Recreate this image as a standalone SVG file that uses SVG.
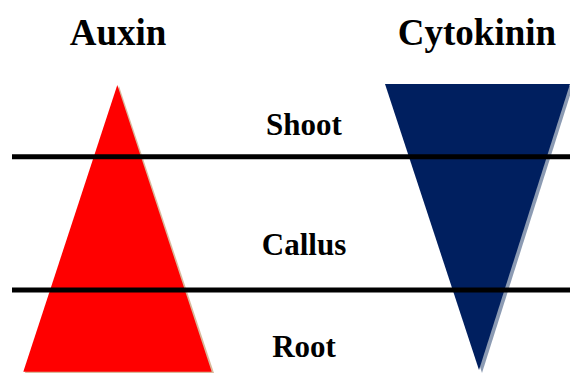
<svg xmlns="http://www.w3.org/2000/svg" width="570" height="374" viewBox="0 0 570 374">
<style>
text{font-family:'Liberation Serif','Times New Roman',serif;font-weight:700;fill:#000;text-anchor:middle}
.h{font-size:37px}
.l{font-size:31px}
.bar{stroke:#000;stroke-width:5}
</style>
<rect width="570" height="374" fill="#fff"/>
<g id="auxin">
<polygon points="119,86 214,373 25,373" fill="#d9b99b"/>
<polygon points="117.3,85 211.7,371.7 23.3,371.7" fill="#ff0000"/>
<text class="h" x="118" y="45">Auxin</text>
</g>
<g id="cytokinin">
<polygon points="388,86 573,86 482,373" fill="#8c9bb3"/>
<polygon points="385,84 570,84 479,370" fill="#001f5f"/>
<text class="h" x="477" y="45">Cytokinin</text>
</g>
<g id="connectors">
<line class="bar" x1="12" y1="156.7" x2="570" y2="156.7"/>
<line class="bar" x1="12" y1="290" x2="570" y2="290"/>
</g>
<g id="shoot"><text class="l" x="304" y="135">Shoot</text></g>
<g id="callus"><text class="l" x="304" y="255">Callus</text></g>
<g id="root"><text class="l" x="304" y="357">Root</text></g>
</svg>
